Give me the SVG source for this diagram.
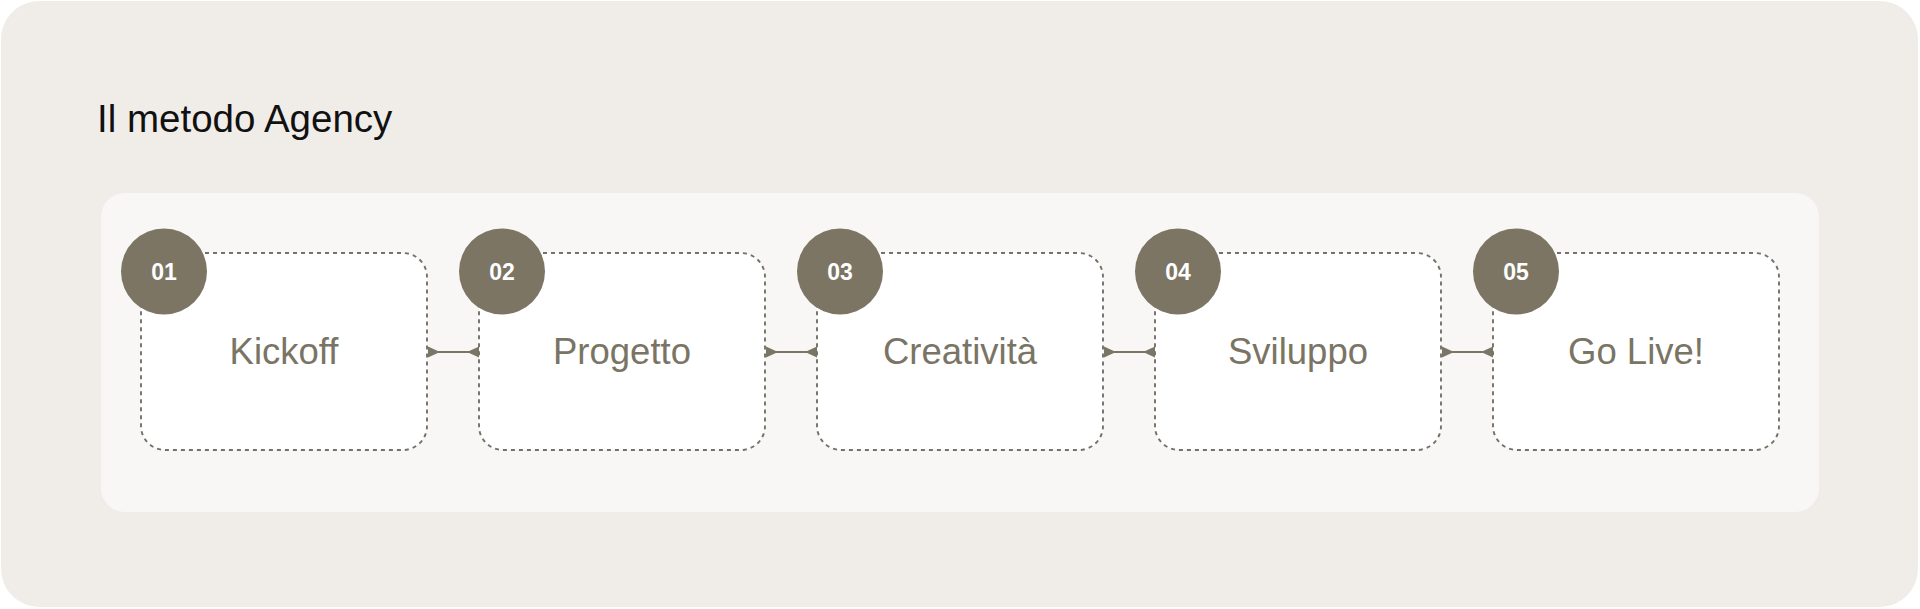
<svg xmlns="http://www.w3.org/2000/svg" width="1920" height="609" viewBox="0 0 1920 609">
  <style>
    .node-box { fill: #ffffff; stroke: #74716a; stroke-width: 1.9; stroke-dasharray: 4 4; }
    .badge { fill: #7c7564; }
    .badge-text { fill: #ffffff; font-family: "Liberation Sans", Arial, sans-serif; font-size: 23px; font-weight: bold; text-anchor: middle; }
    .label { fill: #7a7464; font-family: "Liberation Sans", Arial, sans-serif; font-size: 36.5px; text-anchor: middle; }
    .title { fill: #111111; font-family: "Liberation Sans", Arial, sans-serif; font-size: 38.5px; }
    .conn { stroke: #7a7565; stroke-width: 2; fill: none; }
    .head { fill: #7a7565; }
  </style>
  <rect x="0" y="0" width="1920" height="609" fill="#ffffff"/>
  <rect x="1" y="1" width="1917" height="606" rx="38" fill="#f0ede9"/>
  <text class="title" x="97" y="132">Il metodo Agency</text>
  <rect x="101" y="193" width="1718" height="319" rx="24" fill="#f8f7f6"/>

  <g id="connectors">
    <g>
      <line class="conn" x1="428" y1="352" x2="479" y2="352"/>
      <polygon class="head" points="428,346.5 440,352 428,357.5"/>
      <polygon class="head" points="479,346.5 467,352 479,357.5"/>
    </g>
    <g>
      <line class="conn" x1="766" y1="352" x2="817" y2="352"/>
      <polygon class="head" points="766,346.5 778,352 766,357.5"/>
      <polygon class="head" points="817,346.5 805,352 817,357.5"/>
    </g>
    <g>
      <line class="conn" x1="1104" y1="352" x2="1155" y2="352"/>
      <polygon class="head" points="1104,346.5 1116,352 1104,357.5"/>
      <polygon class="head" points="1155,346.5 1143,352 1155,357.5"/>
    </g>
    <g>
      <line class="conn" x1="1442" y1="352" x2="1493" y2="352"/>
      <polygon class="head" points="1442,346.5 1454,352 1442,357.5"/>
      <polygon class="head" points="1493,346.5 1481,352 1493,357.5"/>
    </g>
  </g>

  <g id="node-1">
    <rect class="node-box" x="141" y="253" width="286" height="197" rx="24"/>
    <text class="label" x="284" y="364">Kickoff</text>
    <circle class="badge" cx="164" cy="271.5" r="43"/>
    <text class="badge-text" x="164" y="279.5">01</text>
  </g>
  <g id="node-2">
    <rect class="node-box" x="479" y="253" width="286" height="197" rx="24"/>
    <text class="label" x="622" y="364">Progetto</text>
    <circle class="badge" cx="502" cy="271.5" r="43"/>
    <text class="badge-text" x="502" y="279.5">02</text>
  </g>
  <g id="node-3">
    <rect class="node-box" x="817" y="253" width="286" height="197" rx="24"/>
    <text class="label" x="960" y="364">Creatività</text>
    <circle class="badge" cx="840" cy="271.5" r="43"/>
    <text class="badge-text" x="840" y="279.5">03</text>
  </g>
  <g id="node-4">
    <rect class="node-box" x="1155" y="253" width="286" height="197" rx="24"/>
    <text class="label" x="1298" y="364">Sviluppo</text>
    <circle class="badge" cx="1178" cy="271.5" r="43"/>
    <text class="badge-text" x="1178" y="279.5">04</text>
  </g>
  <g id="node-5">
    <rect class="node-box" x="1493" y="253" width="286" height="197" rx="24"/>
    <text class="label" x="1636" y="364">Go Live!</text>
    <circle class="badge" cx="1516" cy="271.5" r="43"/>
    <text class="badge-text" x="1516" y="279.5">05</text>
  </g>
</svg>
